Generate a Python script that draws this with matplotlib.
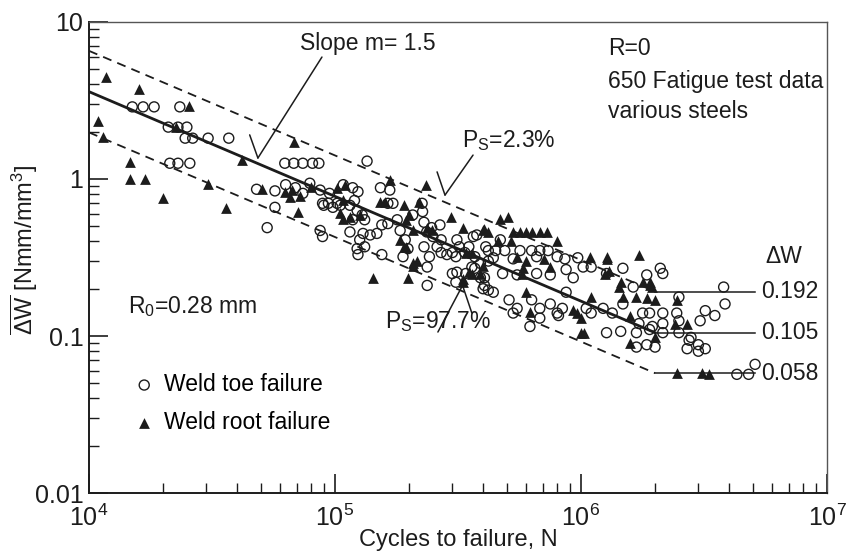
import numpy as np
import matplotlib
matplotlib.use("Agg")
import matplotlib.pyplot as plt
from matplotlib.ticker import FixedLocator, FixedFormatter, LogLocator, NullFormatter

plt.rcParams["font.family"] = ["Liberation Sans", "DejaVu Sans"]
plt.rcParams["mathtext.fontset"] = "custom"
plt.rcParams["mathtext.rm"] = "Liberation Sans"
plt.rcParams["mathtext.it"] = "Liberation Sans:italic"

# ----------------------------------
# Data
# ----------------------------------

toe_N = [
    1.5e4, 1.66e4, 1.84e4, 2.34e4, 2.1e4, 2.3e4, 2.5e4,
    2.46e4, 2.64e4, 3.05e4, 3.7e4, 2.13e4, 2.3e4, 2.57e4,
    6.25e4, 6.8e4, 7.4e4, 8.1e4, 8.6e4, 1.35e5, 4.8e4,
    5.7e4, 6.3e4, 6.9e4, 7.4e4, 7.9e4, 8.7e4, 9.5e4, 1.08e5, 1.18e5, 1.24e5,
    5.7e4, 5.3e4, 8.7e4, 8.9e4, 9.0e4, 9.8e4, 1.05e5, 1.15e5, 1.53e5, 1.67e5,
    8.9e4, 9.4e4, 1.02e5, 1.2e5, 1.23e5, 1.29e5, 1.18e5, 1.32e5, 1.15e5,
    1.3e5, 1.26e5, 1.23e5, 1.32e5, 1.24e5, 1.39e5, 1.48e5, 1.55e5, 1.64e5,
    1.64e5, 1.72e5, 1.79e5, 1.84e5, 1.93e5, 1.98e5, 1.89e5, 2.07e5, 2.26e5,
    2.27e5, 2.3e5, 2.36e5, 2.47e5, 2.5e5, 2.67e5, 2.7e5, 2.3e5, 2.37e5,
    2.42e5, 2.6e5, 2.7e5, 2.85e5, 3.0e5, 3.13e5, 3.2e5, 3.37e5, 3.5e5,
    3.6e5, 3.9e5, 4.2e5, 4.1e5, 3.77e5, 3.0e5, 3.1e5, 3.4e5, 3.9e5, 4.05e5,
    4.2e5, 2.37e5, 1.55e5,
    3.65e5, 4.7e5, 4.2e5, 4.5e5, 4.9e5, 5.65e5, 6.3e5, 6.8e5, 7.35e5,
    3.1e5, 3.7e5, 4.4e5, 5.3e5, 6.6e5, 8.0e5, 8.6e5, 9.7e5, 1.02e6,
    3.13e5, 3.7e5, 4.05e5, 4.8e5, 5.5e5, 6.6e5, 7.5e5, 8.7e5, 9.3e5,
    1.1e6, 1.27e6, 1.48e6, 1.63e6, 1.85e6, 2.1e6, 2.15e6,
    4.0e5, 4.4e5, 5.1e5, 5.5e5, 6.3e5, 6.8e5, 7.5e5, 8.0e5, 8.4e5, 8.7e5,
    1.05e6, 1.1e6, 1.23e6, 1.34e6, 1.48e6, 1.78e6, 1.9e6, 2.15e6, 2.45e6,
    1.72e6, 1.95e6, 2.15e6, 2.5e6, 1.27e6, 1.45e6, 1.68e6, 1.9e6, 2.15e6,
    2.5e6, 2.8e6, 5.3e5, 6.2e5, 6.8e5, 8.1e5,
    2.5e6, 3.8e6, 3.85e6, 3.2e6, 3.5e6, 3.05e6, 2.75e6, 3.0e6, 2.7e6,
    3.0e6, 3.2e6, 2.0e6, 1.68e6, 1.85e6, 4.3e6, 4.8e6, 5.1e6,
]
toe_W = [
    2.88, 2.88, 2.88, 2.88, 2.14, 2.14, 2.14,
    1.82, 1.82, 1.82, 1.82, 1.26, 1.26, 1.26,
    1.26, 1.26, 1.26, 1.26, 1.26, 1.30, 0.86,
    0.84, 0.92, 0.88, 0.81, 0.94, 0.85, 0.81, 0.92, 0.88, 0.83,
    0.66, 0.49, 0.47, 0.43, 0.68, 0.66, 0.68, 0.68, 0.88, 0.85,
    0.70, 0.70, 0.70, 0.73, 0.63, 0.59, 0.55, 0.55, 0.46,
    0.45, 0.41, 0.36, 0.37, 0.33, 0.44, 0.45, 0.51, 0.52,
    0.70, 0.70, 0.55, 0.47, 0.41, 0.36, 0.32, 0.59, 0.70,
    0.62, 0.53, 0.46, 0.49, 0.43, 0.51, 0.41, 0.37, 0.275,
    0.32, 0.37, 0.34, 0.33, 0.34, 0.41, 0.37, 0.34, 0.37,
    0.275, 0.29, 0.30, 0.37, 0.44, 0.25, 0.22, 0.25, 0.235, 0.21,
    0.196, 0.21, 0.33,
    0.43, 0.41, 0.35, 0.35, 0.35, 0.35, 0.35, 0.35, 0.35,
    0.32, 0.32, 0.315, 0.31, 0.32, 0.32, 0.31, 0.315, 0.275,
    0.255, 0.27, 0.235, 0.25, 0.245, 0.25, 0.245, 0.265, 0.235,
    0.275, 0.25, 0.27, 0.205, 0.245, 0.27, 0.25,
    0.20, 0.19, 0.17, 0.15, 0.17, 0.15, 0.16, 0.14, 0.15, 0.19,
    0.15, 0.14, 0.15, 0.14, 0.16, 0.14, 0.14, 0.14, 0.14,
    0.12, 0.115, 0.12, 0.125, 0.105, 0.107, 0.105, 0.11, 0.105,
    0.105, 0.098, 0.14, 0.115, 0.13, 0.135,
    0.177, 0.205, 0.16, 0.145, 0.135, 0.125, 0.094, 0.088, 0.083,
    0.08, 0.083, 0.085, 0.085, 0.088, 0.057, 0.057, 0.066,
]

root_N = [
    1.17e4, 1.6e4, 2.55e4, 1.09e4, 1.14e4, 1.47e4, 1.47e4, 1.69e4, 2.0e4,
    3.6e4, 3.05e4, 4.2e4, 6.8e4, 2.26e4, 5.05e4, 7.1e4, 1.43e5, 1.98e5,
    1.67e5, 2.34e5, 1.53e5, 1.6e5, 6.7e4, 7.2e4, 8.0e4, 1.1e5, 1.08e5,
    1.9e5, 2.08e5,
    6.25e4, 6.55e4, 1.02e5, 1.05e5, 1.15e5, 1.26e5, 1.9e5, 2.0e5, 1.95e5,
    2.07e5, 2.2e5, 1.84e5, 1.95e5, 2.07e5, 2.16e5, 2.36e5, 2.47e5, 2.97e5,
    3.3e5, 4.05e5, 3.4e5, 3.6e5, 3.5e5, 3.6e5, 3.9e5, 3.3e5, 1.08e5,
    4.0e5, 4.2e5, 4.7e5, 5.05e5, 5.3e5, 5.65e5, 6.0e5, 6.35e5, 6.8e5,
    7.3e5, 8.0e5, 5.2e5, 4.6e5, 5.5e5, 6.0e5, 7.1e5, 7.5e5, 1.09e6,
    1.27e6, 1.72e6, 1.3e6, 1.43e6, 1.68e6, 1.9e6, 1.94e6, 6.0e5, 6.2e5,
    9.3e5, 9.6e5, 1.0e6, 1.1e6, 1.48e6, 1.58e6, 1.0e6, 1.03e6, 2.45e6,
    2.7e6, 4.0e5, 3.3e5, 5.8e5, 5.75e5,
    1.28e6, 1.78e6, 1.9e6, 1.86e6, 2.0e6, 2.4e6, 1.58e6, 2.0e6,
    2.45e6, 3.1e6, 3.3e6, 1.25e6, 1.45e6,
]
root_W = [
    4.47, 3.74, 2.92, 2.34, 1.85, 1.28, 1.0, 1.0, 0.76,
    0.65, 0.93, 1.32, 1.72, 2.14, 0.86, 0.62, 0.234, 0.234,
    0.98, 0.92, 0.71, 0.71, 0.85, 0.78, 0.89, 0.92, 0.56,
    0.37, 0.29,
    0.83, 0.77, 0.88, 0.61, 0.57, 0.59, 0.68, 0.59, 0.55,
    0.47, 0.71, 0.41, 0.37, 0.28, 0.30, 0.49, 0.47, 0.57,
    0.49, 0.48, 0.34, 0.34, 0.255, 0.25, 0.25, 0.22, 0.73,
    0.47, 0.46, 0.56, 0.57, 0.46, 0.46, 0.46, 0.46, 0.46,
    0.46, 0.40, 0.40, 0.40, 0.32, 0.30, 0.31, 0.275, 0.32,
    0.32, 0.33, 0.26, 0.205, 0.177, 0.21, 0.205, 0.19, 0.142,
    0.146, 0.14, 0.13, 0.177, 0.177, 0.135, 0.105, 0.105, 0.17,
    0.12, 0.28, 0.23, 0.27, 0.25,
    0.31, 0.22, 0.22, 0.175, 0.17, 0.12, 0.09, 0.098,
    0.058, 0.058, 0.057, 0.25, 0.22,
]

# scatter band: knee at N_D, endurance levels
band_N = [1e4, 2e6]
flat_N = [2e6, 5.1e6]
level_upper = [6.55, 0.192]
level_mean = [3.6, 0.105]
level_lower = [1.98, 0.058]
level_labels = ["0.192", "0.105", "0.058"]

# ----------------------------------
# Plot
# ----------------------------------

ink = "#1c1c1c"
fs = 16.5

fig = plt.figure(figsize=(8.54, 5.54), dpi=100)
ax = fig.add_axes([0.1042, 0.1101, 0.8642, 0.8502])

ax.set_xscale("log")
ax.set_yscale("log")
ax.set_xlim(1e4, 1e7)
ax.set_ylim(0.01, 10)

ax.scatter(root_N, root_W, marker="^", s=60, color=ink, linewidths=0,
           label="Weld root failure", zorder=3)
ax.scatter(toe_N, toe_W, marker="o", s=52, facecolors="none",
           edgecolors=ink, linewidths=1.0, label="Weld toe failure", zorder=4)

ax.plot(band_N, level_mean, color=ink, lw=2.0, zorder=5)
ax.plot(band_N, level_upper, color=ink, lw=1.3, ls=(0, (5, 3.5)), zorder=5)
ax.plot(band_N, level_lower, color=ink, lw=1.3, ls=(0, (5, 3.5)), zorder=5)

for lev, lab in zip([level_upper[1], level_mean[1], level_lower[1]], level_labels):
    ax.plot(flat_N, [lev, lev], color=ink, lw=1.1, zorder=5)
    ax.text(5.4e6, lev, lab, fontsize=fs, va="center", ha="left", color=ink)

ax.text(5.6e6, 0.32, "\u0394W", fontsize=fs, va="center", ha="left", color=ink)

# ----------------------------------
# Annotations
# ----------------------------------

line_kw = dict(arrowstyle="-", color=ink, lw=1.1, shrinkA=0, shrinkB=0)

ax.text(7.2e4, 6.6, "Slope m= 1.5", fontsize=fs, va="baseline", ha="left", color=ink)
ax.annotate("", xy=(4.86e4, 1.36), xytext=(8.85e4, 5.98), arrowprops=line_kw)
ax.annotate("", xy=(4.86e4, 1.36), xytext=(4.5e4, 1.91), arrowprops=line_kw)

ax.text(3.28e5, 1.6, "P$_\\mathrm{S}$=2.3%", fontsize=fs, va="baseline",
        ha="left", color=ink)
ax.annotate("", xy=(2.8e5, 0.79), xytext=(3.64e5, 1.42), arrowprops=line_kw)
ax.annotate("", xy=(2.8e5, 0.79), xytext=(2.6e5, 1.11), arrowprops=line_kw)

ax.text(1.6e5, 0.113, "P$_\\mathrm{S}$=97.7%", fontsize=fs, va="baseline",
        ha="left", color=ink)
ax.annotate("", xy=(3.3e5, 0.21), xytext=(2.62e5, 0.106), arrowprops=line_kw)
ax.annotate("", xy=(3.3e5, 0.21), xytext=(3.6e5, 0.14), arrowprops=line_kw)

ax.text(0.703, 0.930, "R=0", transform=ax.transAxes, fontsize=fs, color=ink)
ax.text(0.703, 0.860, "650 Fatigue test data", transform=ax.transAxes,
        fontsize=fs, color=ink)
ax.text(0.703, 0.796, "various steels", transform=ax.transAxes,
        fontsize=fs, color=ink)
ax.text(0.053, 0.382, "R$_\\mathrm{0}$=0.28 mm", transform=ax.transAxes,
        fontsize=fs, color=ink)

handles, labels = ax.get_legend_handles_labels()
ax.legend(handles[::-1], labels[::-1], loc="center left",
          bbox_to_anchor=(0.05, 0.19), frameon=False, fontsize=fs,
          handlelength=0.8, handletextpad=0.45, labelspacing=0.65,
          borderaxespad=0, markerscale=1.0)

# ----------------------------------
# Axes styling
# ----------------------------------

ax.xaxis.set_major_locator(LogLocator(base=10, numticks=10))
ax.xaxis.set_minor_locator(LogLocator(base=10, subs=np.arange(2, 10), numticks=30))
ax.xaxis.set_minor_formatter(NullFormatter())

ax.yaxis.set_major_locator(FixedLocator([0.01, 0.1, 1, 10]))
ax.yaxis.set_major_formatter(FixedFormatter(["0.01", "0.1", "1", "10"]))
ax.yaxis.set_minor_locator(LogLocator(base=10, subs=np.arange(2, 10), numticks=30))
ax.yaxis.set_minor_formatter(NullFormatter())

ax.tick_params(which="major", direction="in", length=14, width=1.2,
               labelsize=18, colors=ink, top=False, right=False)
ax.tick_params(which="minor", direction="in", length=7, width=1.0,
               colors=ink, top=False, right=False)
ax.tick_params(axis="x", which="major", pad=8)
ax.tick_params(axis="y", which="major", pad=4)

for side in ["left", "bottom"]:
    ax.spines[side].set_linewidth(1.4)
    ax.spines[side].set_color(ink)
for side in ["top", "right"]:
    ax.spines[side].set_linewidth(1.0)
    ax.spines[side].set_color("#555555")

ax.set_xlabel("Cycles to failure, N", fontsize=17, color=ink, labelpad=-1)
ax.set_ylabel("$\\overline{\\Delta\\mathrm{W}}$ [Nmm/mm$^\\mathrm{3}$]",
              fontsize=17, color=ink)
ax.yaxis.set_label_coords(-0.066, 0.516)

fig.savefig("out.png", dpi=100)
